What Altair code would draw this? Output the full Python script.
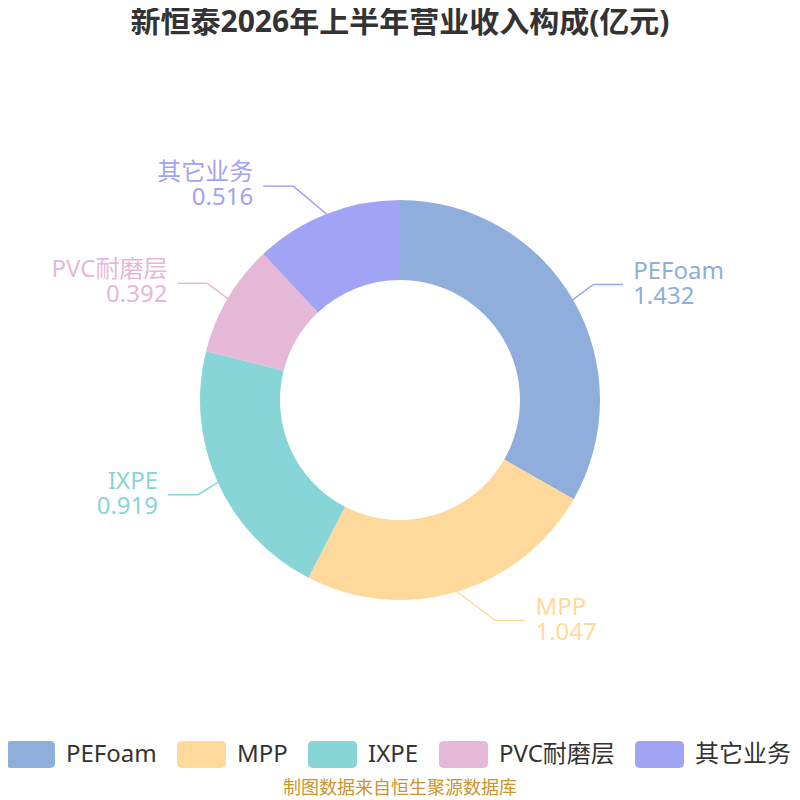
import pandas as pd
import altair as alt

# segment names, values (亿元) and colours
names = ['PEFoam', 'MPP', 'IXPE', 'PVC耐磨层', '其它业务']
values = [1.432, 1.047, 0.919, 0.392, 0.516]
colors = ['#8faedb', '#ffd99b', '#88d5d8', '#e6b8d7', '#a1a3f5']

title = '新恒泰2026年上半年营业收入构成(亿元)'
source = '制图数据来自恒生聚源数据库'

font = "'Noto Sans', 'Noto Sans CJK SC', sans-serif"

df = pd.DataFrame({
    'idx': list(range(len(names))),
    'name': names,
    'value': values,
    'label': [f'{n}\n{v:.3f}' for n, v in zip(names, values)],
})

W, H = 784, 792
xs = alt.Scale(domain=[0, W])
ys = alt.Scale(domain=[0, H], reverse=True)

base = alt.Chart(df).transform_joinaggregate(
    total='sum(value)'
).transform_window(
    cum='sum(value)', sort=[alt.SortField('idx')], frame=[None, 0]
).transform_calculate(
    mid='(datum.cum - datum.value / 2) / datum.total * 2 * PI'
).transform_calculate(
    side='sin(datum.mid) >= 0 ? 1 : -1',
    ax='392 + 200 * sin(datum.mid)',
    ay='392 - 200 * cos(datum.mid)',
    ey='392 - 230 * cos(datum.mid)',
).transform_calculate(
    ex='392 + datum.side * 219 * sqrt(max(0, 1 - pow((datum.ey - 392) / 245, 2)))'
).transform_calculate(
    hx='datum.ex + datum.side * 30',
    tx='datum.ex + datum.side * 40',
)

# rounded rectangle for the legend symbols
rrect = ('M-0.8,-0.55 L0.8,-0.55 Q1,-0.55 1,-0.35 L1,0.35 Q1,0.55 0.8,0.55 '
         'L-0.8,0.55 Q-1,0.55 -1,0.35 L-1,-0.35 Q-1,-0.55 -0.8,-0.55 Z')

donut = alt.Chart(df).mark_arc(outerRadius=200, innerRadius=120).encode(
    x=alt.value(392), y=alt.value(392),
    theta=alt.Theta('value:Q', stack=True),
    order=alt.Order('idx:Q'),
    color=alt.Color('name:N', scale=alt.Scale(domain=names, range=colors),
                    legend=alt.Legend(
                        title=None, orient='none', direction='horizontal', columns=5,
                        legendX=-2, legendY=722, symbolType=rrect, symbolSize=2401,
                        symbolStrokeWidth=0, symbolOpacity=1, labelFont=font,
                        labelFontSize=24, labelColor='#333333', labelOffset=11,
                        columnPadding=20, padding=0)),
)

noleg = alt.Color('name:N', scale=alt.Scale(domain=names, range=colors), legend=None)

line1 = base.mark_rule(strokeWidth=1.5).encode(
    x=alt.X('ax:Q', scale=xs, axis=None),
    y=alt.Y('ay:Q', scale=ys, axis=None),
    x2='ex:Q', y2='ey:Q', color=noleg,
)
line2 = base.mark_rule(strokeWidth=1.5).encode(
    x=alt.X('ex:Q', scale=xs, axis=None),
    y=alt.Y('ey:Q', scale=ys, axis=None),
    x2='hx:Q', y2='ey:Q', color=noleg,
)

lbl = dict(baseline='middle', lineBreak='\n', font=font, fontSize=24, lineHeight=25, dy=-13)
right_lbl = base.transform_filter('datum.side > 0').mark_text(align='left', **lbl).encode(
    x=alt.X('tx:Q', scale=xs, axis=None),
    y=alt.Y('ey:Q', scale=ys, axis=None),
    text='label:N', color=noleg,
)
left_lbl = base.transform_filter('datum.side < 0').mark_text(align='right', **lbl).encode(
    x=alt.X('tx:Q', scale=xs, axis=None),
    y=alt.Y('ey:Q', scale=ys, axis=None),
    text='label:N', color=noleg,
)

title_txt = alt.Chart(pd.DataFrame({'t': [title]})).mark_text(
    font=font, fontSize=30, fontWeight='bold', color='#333333', baseline='middle'
).encode(x=alt.value(392), y=alt.value(15), text='t:N')

source_txt = alt.Chart(pd.DataFrame({'t': [source]})).mark_text(
    font=font, fontSize=18, color='#c9952c', baseline='middle'
).encode(x=alt.value(392), y=alt.value(781), text='t:N')

chart = alt.layer(
    donut, line1, line2, right_lbl, left_lbl, title_txt, source_txt
).properties(
    width=W, height=H, autosize=alt.AutoSizeParams(type='none'), padding=0
).configure_view(stroke=None)

chart.save("out.html", embed_options={"renderer": "svg", "actions": False})
